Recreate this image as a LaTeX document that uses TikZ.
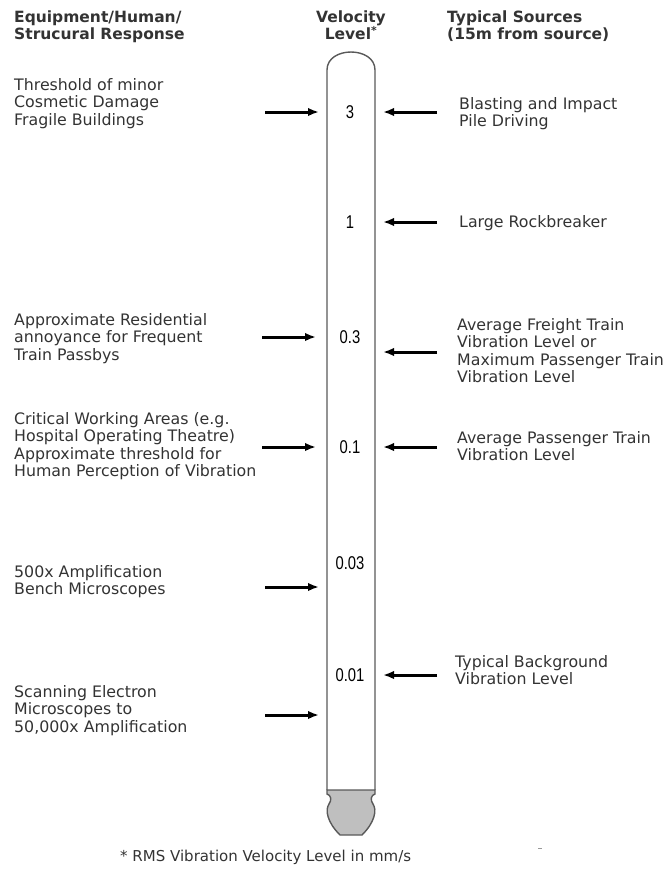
\documentclass[tikz,border=0pt]{standalone}
\usepackage{fontspec}
\setmainfont{DejaVu Sans}
\newfontfamily\numfont[FakeStretch=0.8]{Liberation Sans}
\usetikzlibrary{arrows.meta}

\begin{document}
\begin{tikzpicture}[x=1pt, y=-1pt,
    txt/.style={anchor=base west, align=left, inner sep=0pt,
        font=\fontsize{15.8}{17.6}\selectfont, text=black!80},
    head/.style={txt, font=\fontsize{15.5}{17.6}\selectfont\bfseries},
    note/.style={txt, font=\fontsize{15}{17.6}\selectfont},
    lvl/.style={inner sep=0pt, font=\numfont\fontsize{18.5}{18.5}\selectfont},
    tube/.style={draw=black!65, line width=1.4pt},
    ptr/.style={-{Latex[length=11pt, width=8.5pt]}, line width=3pt}]
    \useasboundingbox (0,0) rectangle (669,871);

    % Column headings (placed at the last line's baseline)
    \node[head] (hleft) at (14,39.6) {Equipment/Human/\\Strucural Response};
    \node[head, anchor=base, align=center] (hmid) at (351,39.6) {Velocity\\Level\textsuperscript{*}};
    \node[head] (hright) at (447,39.6) {Typical Sources\\(15m from source)};

    % Thermometer
    \draw[tube] (327,790) -- (327,70) .. controls (327,46) and (375,46) .. (375,70) -- (375,790);
    \draw[tube, fill=black!25] (327,790) -- (375,790) -- (375,794)
        .. controls (371,795) and (370,800) .. (373,804)
        .. controls (377,810) and (375,822) .. (362,835) -- (340,835)
        .. controls (327,822) and (325,810) .. (329,804)
        .. controls (332,800) and (331,795) .. (327,794) -- cycle;

    % Velocity levels
    \node[lvl] (v3) at (350,112) {3};
    \node[lvl] (v1) at (350,222) {1};
    \node[lvl] (v03) at (350,337) {0.3};
    \node[lvl] (v01) at (350,447) {0.1};
    \node[lvl] (v003) at (350,563) {0.03};
    \node[lvl] (v001) at (350,675) {0.01};

    % Responses (left)
    \node[txt] (eq3) at (14,125.2) {Threshold of minor\\Cosmetic Damage\\Fragile Buildings};
    \node[txt] (eq03) at (14,360.2) {Approximate Residential\\annoyance for Frequent\\Train Passbys};
    \node[txt] (eq01) at (14,476.8) {Critical Working Areas (e.g.\\Hospital Operating Theatre)\\Approximate threshold for\\Human Perception of Vibration};
    \node[txt] (eq003) at (14,594.6) {500x Amplification\\Bench Microscopes};
    \node[txt] (eqsem) at (14,732.2) {Scanning Electron\\Microscopes to\\50,000x Amplification};

    % Sources (right)
    \node[txt] (src3) at (459,126.6) {Blasting and Impact\\Pile Driving};
    \node[txt] (src1) at (459,227) {Large Rockbreaker};
    \node[txt] (src03) at (457,382.8) {Average Freight Train\\Vibration Level or\\Maximum Passenger Train\\Vibration Level};
    \node[txt] (src01) at (457,460.6) {Average Passenger Train\\Vibration Level};
    \node[txt] (src001) at (455,684.6) {Typical Background\\Vibration Level};

    % Arrow ends
    \coordinate (L3s) at (265,112);   \coordinate (L3e) at (319,112);
    \coordinate (L03s) at (262,337);  \coordinate (L03e) at (316,337);
    \coordinate (L01s) at (262,447);  \coordinate (L01e) at (316,447);
    \coordinate (L003s) at (265,587); \coordinate (L003e) at (319,587);
    \coordinate (Lsems) at (265,715); \coordinate (Lseme) at (319,715);
    \coordinate (R3s) at (437,112);   \coordinate (R3e) at (383,112);
    \coordinate (R1s) at (437,222);   \coordinate (R1e) at (383,222);
    \coordinate (R03s) at (437,352);  \coordinate (R03e) at (383,352);
    \coordinate (R01s) at (437,447);  \coordinate (R01e) at (383,447);
    \coordinate (R001s) at (437,675); \coordinate (R001e) at (383,675);

    % Arrows
    \draw[ptr] (L3s) -- (L3e);
    \draw[ptr] (L03s) -- (L03e);
    \draw[ptr] (L01s) -- (L01e);
    \draw[ptr] (L003s) -- (L003e);
    \draw[ptr] (Lsems) -- (Lseme);
    \draw[ptr] (R3s) -- (R3e);
    \draw[ptr] (R1s) -- (R1e);
    \draw[ptr] (R03s) -- (R03e);
    \draw[ptr] (R01s) -- (R01e);
    \draw[ptr] (R001s) -- (R001e);

    % Footnote
    \node[note] (fn) at (120,861) {* RMS Vibration Velocity Level in mm/s};
    \draw[black!40] (538,848) -- (542,848);
\end{tikzpicture}
\end{document}
